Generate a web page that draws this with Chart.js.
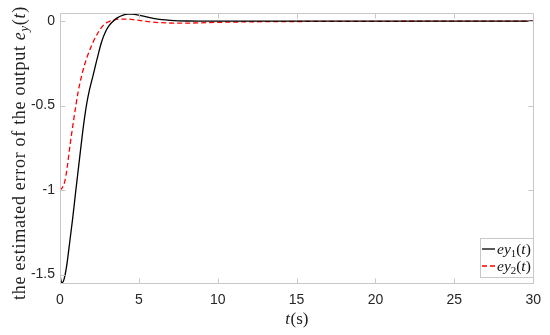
<!DOCTYPE html>
<html>
<head>
<meta charset="utf-8">
<script src="https://cdn.jsdelivr.net/npm/chart.js@4/dist/chart.umd.min.js"></script>
<style>
  html, body { margin: 0; padding: 0; background: #ffffff; }
  #wrap { width: 550px; height: 335px; }
</style>
</head>
<body>
<div id="wrap"><canvas id="c" width="550" height="335"></canvas></div>
<script>
// ---- data ----
const t1 = [0, 0.06, 0.14, 0.25, 0.42, 0.6, 0.8, 1.0, 1.2, 1.4, 1.55, 1.7, 1.86, 2.11, 2.36, 2.64, 2.9, 3.12, 3.3, 3.6, 4.0, 4.3, 4.6, 5.0, 5.5, 6.0, 7.0, 8.0, 10, 15, 20, 25, 30];
const ey1 = [-1.50, -1.535, -1.548, -1.53, -1.45, -1.32, -1.17, -1.005, -0.845, -0.685, -0.575, -0.485, -0.41, -0.316, -0.22, -0.122, -0.06, -0.025, -0.006, 0.018, 0.036, 0.042, 0.042, 0.036, 0.025, 0.015, 0.005, 0.001, 0, 0, 0, 0, 0];

const t2 = [0, 0.15, 0.3, 0.45, 0.6, 0.89, 1.16, 1.39, 1.69, 2.11, 2.4, 2.74, 3.05, 3.37, 3.8, 4.3, 4.8, 5.3, 5.8, 6.4, 7.2, 8.2, 10, 12, 15, 20, 25, 30];
const ey2 = [-1.0, -0.985, -0.95, -0.87, -0.76, -0.57, -0.414, -0.316, -0.22, -0.122, -0.07, -0.025, -0.005, 0.006, 0.012, 0.012, 0.007, 0.001, -0.005, -0.009, -0.011, -0.011, -0.007, -0.004, -0.002, -0.001, 0, 0];

const xTicks = [0, 5, 10, 15, 20, 25, 30];
const yTicks = [-1.5, -1, -0.5, 0];
const yTickLabels = ['-1.5', '-1', '-0.5', '0'];
const seriesLabels = ['ey1(t)', 'ey2(t)'];
const xTitle = ['t', '(s)'];
const yTitle = 'the estimated error of the output ';

const toPts = (ts, vs) => ts.map((t, i) => ({ x: t, y: vs[i] }));

const FRAME = '#c8c8c8';
const TICK_TXT = '#262626';

const framePlugin = {
  id: 'frame',
  afterDatasetsDraw(chart) {
    const { ctx, chartArea: a, scales } = chart;
    ctx.save();
    ctx.strokeStyle = FRAME;
    ctx.lineWidth = 1;
    ctx.beginPath();
    const L = Math.round(a.left) + 0.5, R = Math.round(a.right) + 0.5;
    const T = Math.round(a.top) + 0.5, B = Math.round(a.bottom) + 0.5;
    ctx.rect(L, T, R - L, B - T);
    const tl = 5;
    xTicks.forEach(v => {
      const px = Math.round(scales.x.getPixelForValue(v)) + 0.5;
      ctx.moveTo(px, B); ctx.lineTo(px, B - tl);
      ctx.moveTo(px, T); ctx.lineTo(px, T + tl);
    });
    yTicks.forEach(v => {
      const py = Math.round(scales.y.getPixelForValue(v)) + 0.5;
      ctx.moveTo(L, py); ctx.lineTo(L + tl, py);
      ctx.moveTo(R, py); ctx.lineTo(R - tl, py);
    });
    ctx.stroke();
    ctx.restore();
  },
  afterDraw(chart) {
    const { ctx, chartArea: a } = chart;
    ctx.save();
    ctx.fillStyle = '#222';
    ctx.textBaseline = 'alphabetic';
    // x title
    const fs = 17;
    const fI = 'italic ' + fs + 'px "Liberation Serif"';
    const fR = fs + 'px "Liberation Serif"';
    ctx.font = fI; const w1 = ctx.measureText(xTitle[0]).width;
    ctx.font = fR; const w2 = ctx.measureText(xTitle[1]).width;
    let x0 = (a.left + a.right) / 2 - (w1 + w2) / 2;
    ctx.font = fI; ctx.fillText(xTitle[0], x0, 324);
    ctx.font = fR; ctx.fillText(xTitle[1], x0 + w1 + 0.5, 324);

    // y title (rotated)
    const ys = 18;
    const yR = ys + 'px "Liberation Serif"';
    const yI = 'italic ' + ys + 'px "Liberation Serif"';
    const ySub = 'italic ' + (ys * 0.7) + 'px "Liberation Serif"';
    const parts = [
      { s: yTitle, f: yR, dy: 0 },
      { s: 'e', f: yI, dy: 0 },
      { s: 'y', f: ySub, dy: 3 },
      { s: '(', f: yR, dy: 0 },
      { s: 't', f: yI, dy: 0 },
      { s: ')', f: yR, dy: 0 }
    ];
    if ('letterSpacing' in ctx) ctx.letterSpacing = '0.7px';
    let tot = 0;
    parts.forEach(p => { ctx.font = p.f; p.w = ctx.measureText(p.s).width; tot += p.w; });
    ctx.translate(24.5, 153);
    ctx.rotate(-Math.PI / 2);
    let cx = -tot / 2;
    parts.forEach(p => { ctx.font = p.f; ctx.fillText(p.s, cx, p.dy); cx += p.w; });
    ctx.restore();

    // legend box
    ctx.save();
    const lx = 480.5, ly = 238.5, lw = 53, lh = 39;
    ctx.fillStyle = '#fff';
    ctx.fillRect(lx, ly, lw, lh);
    ctx.strokeStyle = FRAME;
    ctx.lineWidth = 1;
    ctx.strokeRect(lx, ly, lw, lh);
    const rows = [249, 266];
    chart.data.datasets.forEach((ds, i) => {
      const ry = rows[i];
      ctx.strokeStyle = ds.borderColor;
      ctx.lineWidth = ds.borderWidth;
      ctx.setLineDash(ds.borderDash || []);
      ctx.beginPath();
      ctx.moveTo(482, ry); ctx.lineTo(495, ry);
      ctx.stroke();
      ctx.setLineDash([]);
      const m = ds.label.match(/^([a-z]+)(\d)\((\w)\)$/);
      const lf = 15.5;
      const segs = [
        { s: m[1], f: 'italic ' + lf + 'px "Liberation Serif"', dy: 0 },
        { s: m[2], f: (lf * 0.7) + 'px "Liberation Serif"', dy: 3 },
        { s: '(', f: lf + 'px "Liberation Serif"', dy: 0 },
        { s: m[3], f: 'italic ' + lf + 'px "Liberation Serif"', dy: 0 },
        { s: ')', f: lf + 'px "Liberation Serif"', dy: 0 }
      ];
      let tx = 497;
      ctx.fillStyle = '#111';
      ctx.textBaseline = 'alphabetic';
      segs.forEach(sg => {
        ctx.font = sg.f;
        ctx.fillText(sg.s, tx, ry + 5 + sg.dy);
        tx += ctx.measureText(sg.s).width;
      });
    });
    ctx.restore();
  }
};

new Chart(document.getElementById('c'), {
  type: 'line',
  data: {
    datasets: [
      {
        label: seriesLabels[0],
        data: toPts(t1, ey1),
        borderColor: '#000000',
        borderWidth: 1.3,
        pointRadius: 0,
        fill: false,
        cubicInterpolationMode: 'monotone'
      },
      {
        label: seriesLabels[1],
        data: toPts(t2, ey2),
        borderColor: '#ff0000',
        borderWidth: 1.3,
        borderDash: [5, 3],
        pointRadius: 0,
        fill: false,
        cubicInterpolationMode: 'monotone'
      }
    ]
  },
  options: {
    responsive: false,
    animation: false,
    events: [],
    layout: { padding: { left: 0, right: 14, top: 9, bottom: 0 } },
    plugins: { legend: { display: false }, tooltip: { enabled: false } },
    scales: {
      x: {
        type: 'linear',
        min: 0, max: 30,
        afterBuildTicks: s => { s.ticks = xTicks.map(v => ({ value: v })); },
        afterFit: s => { s.height = 52; },
        grid: { display: false, drawTicks: false },
        border: { display: false },
        ticks: {
          font: { family: '"Liberation Sans", Arial, sans-serif', size: 14 },
          color: TICK_TXT,
          padding: 9,
          maxRotation: 0,
          callback: v => String(v)
        }
      },
      y: {
        type: 'linear',
        min: -1.55, max: 0.046,
        afterBuildTicks: s => { s.ticks = yTicks.map(v => ({ value: v })); },
        afterFit: s => { s.width = 60; },
        grid: { display: false, drawTicks: false },
        border: { display: false },
        ticks: {
          font: { family: '"Liberation Sans", Arial, sans-serif', size: 14 },
          color: TICK_TXT,
          padding: 5,
          callback: (v) => { const i = yTicks.indexOf(v); return i >= 0 ? yTickLabels[i] : ''; }
        }
      }
    }
  },
  plugins: [framePlugin]
});
</script>
</body>
</html>
